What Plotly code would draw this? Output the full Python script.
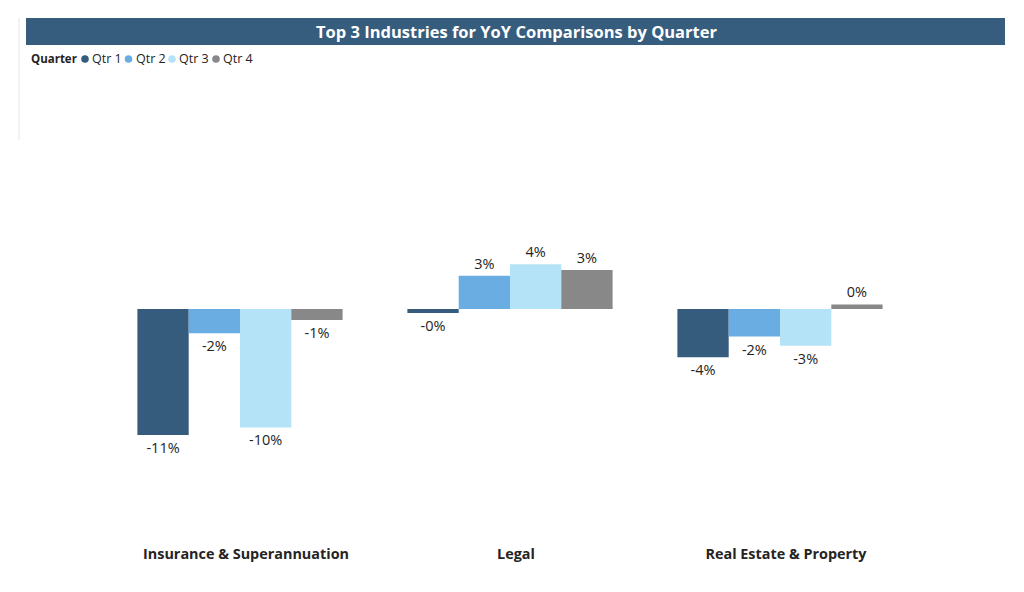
import plotly.graph_objects as go

industries = ["Insurance & Superannuation", "Legal", "Real Estate & Property"]
quarters = ["Qtr 1", "Qtr 2", "Qtr 3", "Qtr 4"]
qtr1 = [-0.1096, -0.0035, -0.042]
qtr2 = [-0.021, 0.029, -0.024]
qtr3 = [-0.103, 0.039, -0.032]
qtr4 = [-0.0096, 0.034, 0.004]
series = [qtr1, qtr2, qtr3, qtr4]
colors = ["#355c7d", "#6aade2", "#b4e2f6", "#888888"]

FONT = "Open Sans"
OFF = 8  # page body margin
PL, PR, PT, PB = 105 - OFF, 915 - OFF, 160 - OFF, 540 - OFF
PW, PH = PR - PL, PB - PT

def px(x):
    return (x - OFF - PL) / PW

def py(y):
    return (PB - (y - OFF)) / PH

fig = go.Figure()
for name, vals, col in zip(quarters, series, colors):
    fig.add_trace(go.Bar(
        x=industries, y=vals, name=name, marker_color=col, marker_line_width=0,
        text=[f"{v*100:.0f}%" for v in vals], textposition="outside",
        textfont=dict(family=FONT, size=14.5, color="#252423"),
        cliponaxis=False, showlegend=False, hoverinfo="skip",
    ))

fig.update_layout(
    width=1024, height=592,
    margin=dict(l=PL, r=1024 - PR, t=PT, b=592 - PB),
    paper_bgcolor="white", plot_bgcolor="white",
    barmode="group", bargap=0.24, bargroupgap=0,
    font=dict(family=FONT, color="#252423"),
    xaxis=dict(showgrid=False, zeroline=False, showline=False, ticks="",
               tickfont=dict(family=FONT, size=14.4, color="#252423"),
               ticklabelstandoff=4, ticklabelshift=6),
    yaxis=dict(range=[-0.2009, 0.1296], visible=False, showgrid=False, zeroline=False),
)
fig.update_xaxes(tickvals=industries, ticktext=[f"<b>{c}</b>" for c in industries])

# title banner
fig.add_shape(type="rect", xref="paper", yref="paper",
              x0=px(26), x1=px(1005), y0=py(45), y1=py(18),
              fillcolor="#365d7e", line_width=0, layer="below")
fig.add_annotation(xref="paper", yref="paper", x=px(516), y=py(31.5),
                   text="<b>Top 3 Industries for YoY Comparisons by Quarter</b>",
                   showarrow=False, font=dict(family=FONT, size=16.5, color="white"),
                   xanchor="center", yanchor="middle")
# faint card border on left
fig.add_shape(type="line", xref="paper", yref="paper",
              x0=px(19), x1=px(19), y0=py(140), y1=py(18),
              line=dict(color="#e6e6e6", width=1))

# legend (title + circle markers + labels)
LEG_Y = 59
fig.add_annotation(xref="paper", yref="paper", x=px(29), y=py(LEG_Y),
                   text="<b>Quarter</b>", showarrow=False, xanchor="left", yanchor="middle",
                   font=dict(family=FONT, size=11.5, color="#252423"))
item_x = [85, 128.5, 172, 216]
for q, c, cx in zip(quarters, colors, item_x):
    fig.add_shape(type="circle", xref="paper", yref="paper",
                  xsizemode="pixel", ysizemode="pixel",
                  xanchor=px(cx), yanchor=py(LEG_Y),
                  x0=-3.8, x1=3.8, y0=-3.8, y1=3.8,
                  fillcolor=c, line_width=0)
    fig.add_annotation(xref="paper", yref="paper", x=px(cx + 5), y=py(LEG_Y),
                       text=q, showarrow=False, xanchor="left", yanchor="middle",
                       font=dict(family=FONT, size=12.5, color="#252423"))

fig.write_html("out.html")
